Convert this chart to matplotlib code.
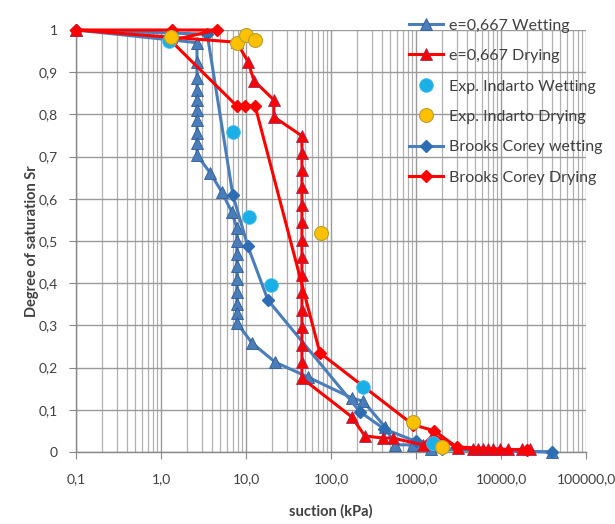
import numpy as np
import matplotlib
matplotlib.use("Agg")
from matplotlib import pyplot as plt
from matplotlib.ticker import FixedLocator, LogLocator, NullFormatter

# e=0,667 wetting (model)
wet_x = [0.1, 2.65, 2.65, 2.65, 2.65, 2.65, 2.65, 2.65, 2.65, 2.65, 2.65,
         3.8, 5.2, 6.8, 7.8, 7.8, 7.8, 7.8, 7.8, 7.8, 7.8, 7.8, 7.8,
         11.8, 22, 53, 176, 240, 430, 565, 915, 1500, 40000]
wet_y = [1.0, 0.97, 0.924, 0.886, 0.858, 0.834, 0.81, 0.787, 0.756, 0.732, 0.704,
         0.661, 0.616, 0.569, 0.531, 0.50, 0.47, 0.44, 0.41, 0.38, 0.35, 0.33, 0.306,
         0.258, 0.213, 0.178, 0.128, 0.12, 0.06, 0.017, 0.017, 0.006, 0.0]

# e=0,667 drying (model)
dry_x = [0.1, 1.3, 7.8, 10.6, 12.4, 21.3, 21.3,
         45.5, 45.5, 45.5, 45.5, 45.5, 45.5, 45.5, 45.5, 45.5, 45.5, 45.5, 45.5, 45.5, 45.5, 45.5,
         176, 250, 410, 535, 1200, 1600, 3100, 4660, 5400, 6100, 7000, 8000, 9800, 12100, 17700, 21900]
dry_y = [1.0, 0.983, 0.971, 0.924, 0.88, 0.834, 0.794,
         0.749, 0.709, 0.668, 0.628, 0.585, 0.545, 0.502, 0.462, 0.419, 0.379, 0.336, 0.296,
         0.254, 0.213, 0.175,
         0.083, 0.038, 0.033, 0.033, 0.017, 0.04, 0.01, 0.006, 0.006, 0.006, 0.006, 0.006, 0.006,
         0.006, 0.006, 0.006]

# experimental points (Indarto)
exp_wet_x = [1.25, 7.0, 10.8, 19.7, 237, 1580]
exp_wet_y = [0.975, 0.758, 0.557, 0.396, 0.154, 0.021]
exp_dry_x = [1.31, 7.8, 10.0, 12.8, 76, 915, 2000]
exp_dry_y = [0.983, 0.97, 0.988, 0.976, 0.52, 0.071, 0.012]

# Brooks Corey fits
bc_wet_x = [0.1, 3.5, 7.0, 10.5, 18.1, 220, 420, 1000, 2000, 40000]
bc_wet_y = [1.0, 0.99, 0.609, 0.488, 0.36, 0.095, 0.055, 0.025, 0.008, 0.0]
bc_dry_x = [0.1, 1.35, 4.5, 1.3, 7.8, 9.7, 12.8, 74, 917, 1650, 3000, 20000]
bc_dry_y = [1.0, 1.0, 1.0, 0.975, 0.82, 0.82, 0.82, 0.235, 0.065, 0.05, 0.012, 0.004]

x_ticks = [0.1, 1, 10, 100, 1000, 10000, 100000]
x_labels = ["0,1", "1,0", "10,0", "100,0", "1000,0", "10000,0", "100000,0"]
y_ticks = [0, 0.1, 0.2, 0.3, 0.4, 0.5, 0.6, 0.7, 0.8, 0.9, 1.0]
y_labels = ["0", "0,1", "0,2", "0,3", "0,4", "0,5", "0,6", "0,7", "0,8", "0,9", "1"]

blue = "#4A7EBB"
red = "#FF0000"
txt = "#404040"

plt.rcParams["font.family"] = ["Lato", "DejaVu Sans"]

fig = plt.figure(figsize=(6.15, 5.24), dpi=100)
ax = fig.add_axes([76 / 615, 1 - 452 / 524, 510 / 615, 422 / 524])

ax.plot(wet_x, wet_y, color=blue, lw=2.2, marker="^", ms=8.5,
        mfc=blue, mec="#2F5A94", mew=0.6, label="e=0,667 Wetting", clip_on=False, zorder=3)
ax.plot(dry_x, dry_y, color=red, lw=2.2, marker="^", ms=8.5,
        mfc=red, mec="#9B2D5A", mew=0.6, label="e=0,667 Drying", clip_on=False, zorder=4)
ax.plot(exp_wet_x, exp_wet_y, ls="none", marker="o", ms=10,
        mfc="#1AAFE6", mec="#5BC3EA", mew=0.5, label="Exp. Indarto Wetting", clip_on=False, zorder=5)
ax.plot(exp_dry_x, exp_dry_y, ls="none", marker="o", ms=10,
        mfc="#FFC000", mec="#B8A030", mew=0.8, label="Exp. Indarto Drying", clip_on=False, zorder=6)
ax.plot(bc_wet_x, bc_wet_y, color=blue, lw=2.2, marker="D", ms=6,
        mfc="#2E6DB4", mec="#2E6DB4", label="Brooks Corey wetting", clip_on=False, zorder=3)
ax.plot(bc_dry_x, bc_dry_y, color=red, lw=2.2, marker="D", ms=6,
        mfc=red, mec=red, label="Brooks Corey Drying", clip_on=False, zorder=4)

ax.set_xscale("log")
ax.set_xlim(0.1, 100000)
ax.set_ylim(0, 1)
ax.xaxis.set_major_locator(FixedLocator(x_ticks))
ax.set_xticklabels(x_labels)
ax.xaxis.set_minor_locator(LogLocator(base=10, subs=np.arange(2, 10)))
ax.xaxis.set_minor_formatter(NullFormatter())
ax.set_yticks(y_ticks)
ax.set_yticklabels(y_labels)

ax.grid(True, which="major", axis="both", color="#9A9A9A", lw=1.0)
ax.grid(True, which="minor", axis="x", color="#B0B0B0", lw=0.9)
ax.set_axisbelow(True)

for s in ["top", "right"]:
    ax.spines[s].set_visible(False)
for s in ["left", "bottom"]:
    ax.spines[s].set_color("#888888")
    ax.spines[s].set_linewidth(1.0)

ax.tick_params(axis="both", which="major", direction="out", length=5, color="#888888",
               labelsize=10, labelcolor=txt)
ax.tick_params(axis="x", which="major", pad=10)
ax.tick_params(axis="y", which="major", pad=8)
ax.tick_params(axis="x", which="minor", length=0)

ax.set_xlabel("suction (kPa)", fontsize=10.5, fontweight="bold", color=txt, labelpad=14)
ax.set_ylabel("Degree of saturation Sr", fontsize=10.5, fontweight="bold", color=txt, labelpad=0)

ax.legend(loc="upper left", bbox_to_anchor=(395 / 615, 1 - 4 / 524),
          bbox_transform=fig.transFigure, frameon=False, fontsize=11.5,
          handlelength=2.1, labelspacing=1.02, handletextpad=0.35, labelcolor=txt)

fig.savefig("out.png", dpi=100)
